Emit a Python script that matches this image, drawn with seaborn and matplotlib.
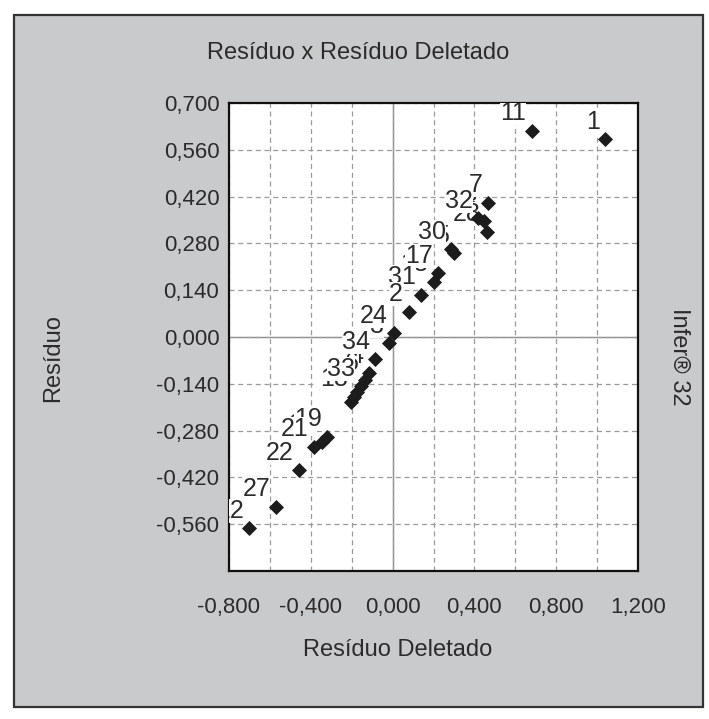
import numpy as np
import pandas as pd
import matplotlib
matplotlib.use("Agg")
import matplotlib.pyplot as plt
from matplotlib.patches import Rectangle
from matplotlib.ticker import FuncFormatter, MultipleLocator, FixedLocator
import seaborn as sns

# ---------------- data ----------------
obs_labels = ["23", "5", "13", "3", "4", "6", "8", "14", "10", "28",
              "1", "11", "7", "32", "30", "17", "31", "2", "24", "34",
              "18", "33", "19", "21", "22", "27", "12"]
residuo_deletado = [0.449, 0.302, 0.200, -0.016, -0.117, -0.137, -0.176, -0.205, -0.345, 0.460,
                    1.040, 0.680, 0.465, 0.420, 0.286, 0.224, 0.140, 0.078, 0.005, -0.084,
                    -0.190, -0.156, -0.320, -0.385, -0.459, -0.572, -0.702]
residuo = [0.348, 0.251, 0.165, -0.019, -0.108, -0.129, -0.164, -0.194, -0.313, 0.315,
           0.592, 0.617, 0.402, 0.355, 0.262, 0.191, 0.126, 0.076, 0.011, -0.067,
           -0.179, -0.147, -0.298, -0.328, -0.398, -0.508, -0.572]

x_ticks = [-0.8, -0.4, 0.0, 0.4, 0.8, 1.2]
y_ticks = [0.70, 0.56, 0.42, 0.28, 0.14, 0.0, -0.14, -0.28, -0.42, -0.56]

title_text = "Resíduo x Resíduo Deletado"
x_label = "Resíduo Deletado"
y_label = "Resíduo"
side_text = "Infer® 32"

df = pd.DataFrame({"obs": obs_labels, "x": residuo_deletado, "y": residuo})

# ---------------- style ----------------
sns.set_style("white")
plt.rcParams["font.family"] = ["Liberation Sans", "DejaVu Sans"]
TXT = "#2b2b2b"

W, H = 709, 719
fig = plt.figure(figsize=(W / 100, H / 100), dpi=100, facecolor="white")

# gray panel with border
fig.patches.append(Rectangle((14 / W, 1 - 707 / H), (703 - 14) / W, (707 - 15) / H,
                             transform=fig.transFigure, facecolor="#c9cacc",
                             edgecolor="#333333", linewidth=1.6, zorder=-5))

ax_l, ax_r, ax_t, ax_b = 229, 638, 103, 571
ax = fig.add_axes([ax_l / W, 1 - ax_b / H, (ax_r - ax_l) / W, (ax_b - ax_t) / H])
ax.set_facecolor("white")

ax.set_xlim(-0.8, 1.2)
ax.set_ylim(-0.70, 0.70)

# grid
ax.xaxis.set_major_locator(FixedLocator(x_ticks))
ax.xaxis.set_minor_locator(MultipleLocator(0.2))
ax.yaxis.set_major_locator(FixedLocator(y_ticks))
ax.grid(True, axis="x", which="both", color="#9a9a9a", linestyle=(0, (4, 3)), linewidth=0.9, zorder=0)
ax.grid(True, axis="y", which="major", color="#9a9a9a", linestyle=(0, (4, 3)), linewidth=0.9, zorder=0)
ax.axhline(0, color="#8a8a8a", linewidth=1.0, zorder=0.5)
ax.axvline(0, color="#8a8a8a", linewidth=1.0, zorder=0.5)
ax.set_axisbelow(True)

fmt = FuncFormatter(lambda v, p: ("%.3f" % (0.0 if abs(v) < 1e-9 else v)).replace(".", ","))
ax.xaxis.set_major_formatter(fmt)
ax.yaxis.set_major_formatter(fmt)
ax.tick_params(axis="both", which="major", direction="out", length=4, width=1,
               color="#222222", labelsize=16, labelcolor=TXT)
ax.tick_params(axis="both", which="minor", length=0)
ax.tick_params(axis="x", which="major", pad=15)
ax.tick_params(axis="y", which="major", pad=3)

for s in ax.spines.values():
    s.set_visible(True)
    s.set_color("#111111")
    s.set_linewidth(1.6)

# labels for each observation (white box, clipped to the plot area)
for _, r in df.iterrows():
    ax.annotate(r["obs"], (r["x"], r["y"]), xytext=(-4, 7.5), textcoords="offset points",
                ha="right", va="baseline", fontsize=18, color=TXT,
                family=["Liberation Sans Narrow", "Liberation Sans"],
                bbox=dict(boxstyle="square,pad=0", facecolor="white", edgecolor="none"),
                clip_on=True, zorder=3)

sns.scatterplot(data=df, x="x", y="y", ax=ax, marker="D", s=50, color="#1c1c1c",
                edgecolor="#1c1c1c", linewidth=0.6, zorder=5, legend=False)

ax.set_xlabel(x_label, fontsize=17, color=TXT)
ax.set_ylabel(y_label, fontsize=17, color=TXT)
ax.xaxis.label.set_verticalalignment("center")
ax.yaxis.label.set_verticalalignment("center")
ax.xaxis.set_label_coords((398 - ax_l) / (ax_r - ax_l), (ax_b - 650) / (ax_b - ax_t))
ax.yaxis.set_label_coords((53 - ax_l) / (ax_r - ax_l), (ax_b - 358) / (ax_b - ax_t))

fig.text(358 / W, 1 - 53 / H, title_text, ha="center", va="center", fontsize=17, color=TXT)
fig.text(679 / W, 1 - 357 / H, side_text, ha="center", va="center", rotation=270,
         fontsize=17, color=TXT)

fig.savefig("out.png", dpi=100, facecolor="white")
